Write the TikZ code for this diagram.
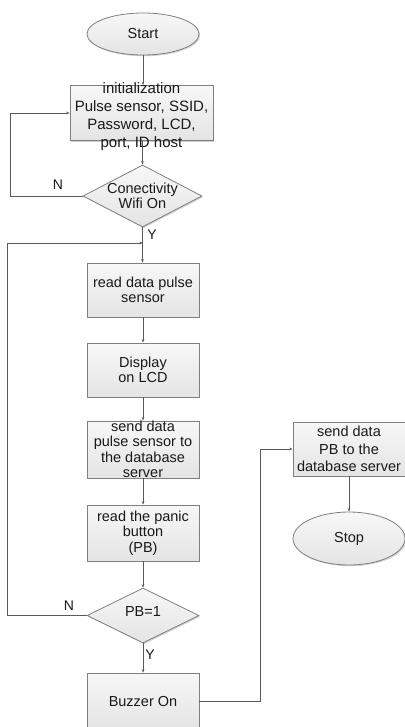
\documentclass[tikz,border=0pt]{standalone}
\usepackage{fontspec}
\setmainfont{Liberation Sans}
\usetikzlibrary{shapes.geometric,arrows.meta,shadows}
\definecolor{boxline}{HTML}{7F7F7F}
\definecolor{conline}{HTML}{595959}
\definecolor{filltop}{HTML}{F7F7F7}
\definecolor{fillbot}{HTML}{E4E4E4}
\newcommand{\zerotext}[2][0pt]{\makebox[0pt]{\smash{\raisebox{#1}{\begin{tabular}{@{}c@{}}#2\end{tabular}}}}}
\tikzset{
  shapebase/.style={draw=boxline, line width=0.8pt, top color=filltop, bottom color=fillbot,
    inner sep=0pt, align=center, text=black!90,
    drop shadow={shadow xshift=1.2pt, shadow yshift=-1.2pt, fill=black, opacity=0.18}},
  procbox/.style={shapebase, rectangle, minimum width=112pt, minimum height=55pt,
    font=\fontsize{14.5}{15.5}\selectfont},
  terminal/.style={shapebase, ellipse, minimum width=112pt, minimum height=42pt,
    font=\fontsize{14.5}{15.5}\selectfont},
  decision/.style={shapebase, diamond, minimum width=119pt, minimum height=62pt,
    font=\fontsize{14.5}{15.5}\selectfont},
  arr/.style={draw=conline, line width=0.7pt, -{Stealth[length=3.5pt,width=2.6pt]}},
  lbl/.style={font=\fontsize{14}{14}\selectfont, text=black!90, inner sep=0pt}
}
\begin{document}
\begin{tikzpicture}[x=1pt,y=-1pt]
\useasboundingbox (0,0) rectangle (404,727);
\node[terminal] (start) at (143,34) {Start};
\node[procbox, minimum width=143pt, font=\fontsize{15}{18.2}\selectfont] (init) at (141.5,113)
  {\zerotext[-7.5pt]{initialization\\Pulse sensor, SSID,\\Password, LCD,\\port, ID host}};
\node[decision] (conn) at (142.5,196) {\zerotext[-5.5pt]{Conectivity\\Wifi On}};
\node[procbox, minimum height=54pt] (read) at (143,290) {read data pulse\\sensor};
\node[procbox, minimum height=54pt] (disp) at (143,370) {Display\\on LCD};
\node[procbox] (send) at (143,449.5) {send data\\pulse sensor to\\the database\\server};
\node[procbox, minimum height=56pt] (panic) at (143,533) {read the panic\\button\\(PB)};
\node[decision, minimum width=112pt, minimum height=55pt] (pb) at (143,615.5) {\zerotext[-1pt]{PB=1}};
\node[procbox, minimum height=56pt] (buzz) at (143,701) {Buzzer On};
\node[procbox, minimum height=54pt, font=\fontsize{14.5}{17.5}\selectfont] (sendpb) at (349,449)
  {send data\\PB to the\\database server};
\node[terminal, minimum height=53pt] (stop) at (349,538.5) {Stop};

\coordinate (lx1) at (10,0);
\coordinate (lx2) at (7,0);
\coordinate (rx) at (260,0);
\coordinate (j1) at (143,243);

\draw[arr] (start.south) -- (start.south |- init.north);
\draw[arr] (init.south -| conn.north) -- (conn.north);
\draw[arr] (conn.west) -- (conn.west -| lx1) |- (init.west);
\draw[arr] (conn.south) -- (conn.south |- read.north);
\draw[arr] (pb.west) -- (pb.west -| lx2) |- (j1);
\draw[arr] (read) -- (disp);
\draw[arr] (disp) -- (send);
\draw[arr] (send) -- (panic);
\draw[arr] (panic) -- (pb);
\draw[arr] (pb) -- (buzz);
\draw[arr] (buzz.east) -- (buzz.east -| rx) |- (sendpb.west);
\draw[arr] (sendpb) -- (stop);

\node[lbl] (n1) at (58,185) {N};
\node[lbl] (y1) at (152,235) {Y};
\node[lbl] (n2) at (69,606) {N};
\node[lbl] (y2) at (150,655) {Y};
\end{tikzpicture}
\end{document}
